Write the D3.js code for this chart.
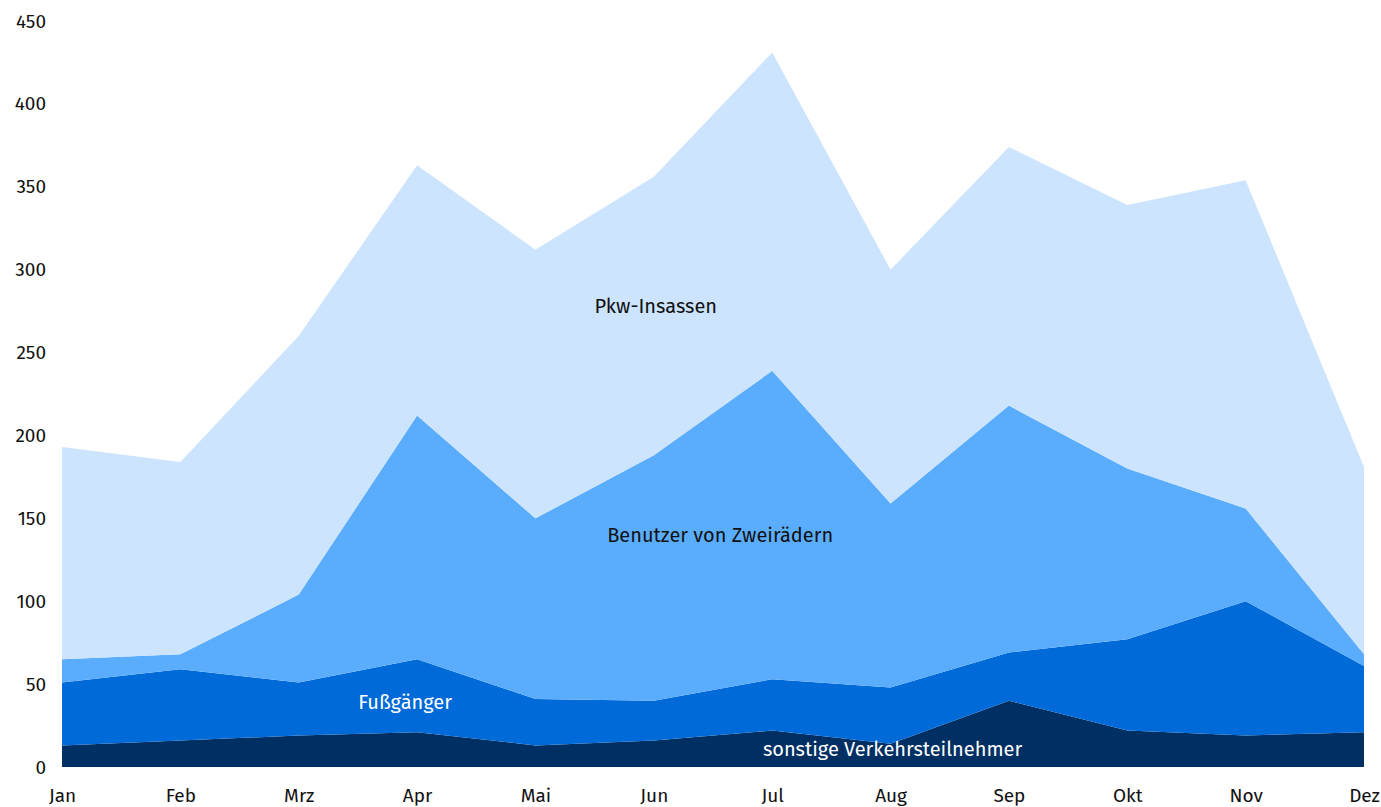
<!DOCTYPE html>
<html><head><meta charset="utf-8">
<script src="https://cdn.jsdelivr.net/npm/d3@7"></script>
<style>body{margin:0;background:#fff}svg{display:block;font-family:"Fira Sans","Noto Sans","Open Sans",sans-serif}</style>
</head><body>
<svg id="c" width="1381" height="807"></svg>
<script>
const months = ["Jan","Feb","Mrz","Apr","Mai","Jun","Jul","Aug","Sep","Okt","Nov","Dez"];
const sonstige = [13,16,19,21,13,16,22,14,40,22,19,21];
const fussgaenger = [38,43,32,44,28,24,31,34,29,55,81,40];
const zweiraeder = [14,9,53,147,109,148,186,111,149,103,56,7];
const pkw = [128,116,156,151,162,168,192,141,156,159,198,113];
const yTicks = [0,50,100,150,200,250,300,350,400,450];
const seriesKeys = ["sonstige","fussgaenger","zweiraeder","pkw"];
const seriesLabels = ["sonstige Verkehrsteilnehmer","Fußgänger","Benutzer von Zweirädern","Pkw-Insassen"];
const colors = ["#002f63","#006ad8","#5aadfd","#cce4fd"];
const labelColors = ["#ffffff","#ffffff","#111111","#111111"];
const FONT = '"Fira Sans","Noto Sans","Open Sans",sans-serif';

const table = months.map((m,i)=>({month:m,sonstige:sonstige[i],fussgaenger:fussgaenger[i],zweiraeder:zweiraeder[i],pkw:pkw[i]}));
const stack = d3.stack().keys(seriesKeys)(table);

const svg = d3.select("#c");
const x = d3.scalePoint().domain(months).range([62,1364]);
const y = d3.scaleLinear().domain([0,450]).range([767,21]);

const area = d3.area().x(d=>x(d.data.month)).y0(d=>y(d[0])).y1(d=>y(d[1]));
svg.append("g").selectAll("path").data(stack).join("path")
  .attr("d",area).attr("fill",(d,i)=>colors[i]);

// y axis
const ya = svg.append("g").attr("transform","translate(46,0)")
  .call(d3.axisLeft(y).tickValues(yTicks).tickSize(0).tickPadding(0));
ya.attr("font-family",FONT).attr("font-size",19);
ya.select(".domain").remove();
ya.selectAll("text").attr("fill","#111");

// x axis
const xa = svg.append("g").attr("transform","translate(0,767)")
  .call(d3.axisBottom(x).tickSize(0).tickPadding(22));
xa.attr("font-family",FONT).attr("font-size",19);
xa.select(".domain").remove();
xa.selectAll("text").attr("fill","#111");

// labels
const labelPos = [{m:"Aug",dx:2,v:10},{m:"Apr",dx:-12,v:38},{m:"Jul",dx:-52,v:139},{m:"Jun",dx:2,v:277}];
labelPos.forEach((p,i)=>{
  svg.append("text").attr("x",x(p.m)+p.dx).attr("y",y(p.v)).attr("text-anchor","middle")
    .attr("dominant-baseline","middle").attr("font-size",20).attr("fill",labelColors[i])
    .text(seriesLabels[i]);
});
</script>
</body></html>
